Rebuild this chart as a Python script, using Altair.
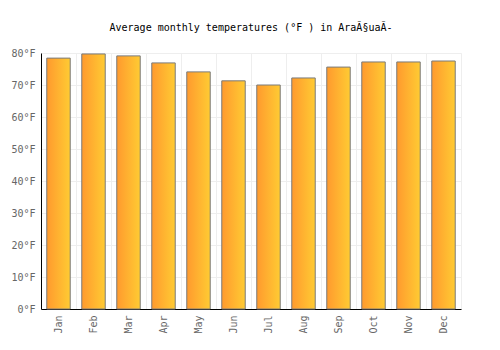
import altair as alt
import pandas as pd

months = ["Jan", "Feb", "Mar", "Apr", "May", "Jun", "Jul", "Aug", "Sep", "Oct", "Nov", "Dec"]
temps_f = [78.4, 79.7, 79.1, 76.9, 74.1, 71.3, 70.0, 72.2, 75.6, 77.2, 77.2, 77.5]
y_ticks = [0, 10, 20, 30, 40, 50, 60, 70, 80]

df = pd.DataFrame({"month": months, "temp": temps_f})

font = "DejaVu Sans Mono"

gradient = alt.Gradient(
    gradient="linear",
    stops=[alt.GradientStop(color="#FF9A2E", offset=0), alt.GradientStop(color="#FFCB33", offset=1)],
    x1=0, x2=1, y1=0, y2=0,
)

chart = alt.Chart(df).mark_bar(
    color=gradient, stroke="#7a7a7a", strokeWidth=1, width={"band": 0.67}
).encode(
    x=alt.X("month:N", sort=months, title=None,
            scale=alt.Scale(paddingInner=0, paddingOuter=0),
            axis=alt.Axis(labelAngle=270, labelFont=font, labelFontSize=10, labelColor="#666",
                          ticks=False, domainColor="#000", domainWidth=1, grid=True,
                          gridColor="#eeeeee", bandPosition=0, labelPadding=6, labelBaseline="middle",
                          labelAlign="right")),
    y=alt.Y("temp:Q", title=None,
            scale=alt.Scale(domain=[0, 80], nice=False),
            axis=alt.Axis(values=y_ticks, labelExpr="datum.value + '°F'", labelFont=font,
                          labelFontSize=10, labelColor="#666", ticks=False, domainColor="#000",
                          domainWidth=1, gridColor="#eeeeee", labelPadding=6)),
).properties(
    width=420, height=256,
    title=alt.TitleParams("Average monthly temperatures (°F ) in AraÃ§uaÃ-",
                          font=font, fontSize=10, fontWeight="normal", color="#000",
                          anchor="middle", offset=15),
    autosize=alt.AutoSizeParams(type="none"),
    padding={"left": 41, "top": 53, "right": 39, "bottom": 41},
).configure_view(stroke="#eeeeee")

chart.save("out.html", embed_options={"renderer": "svg", "actions": False})
